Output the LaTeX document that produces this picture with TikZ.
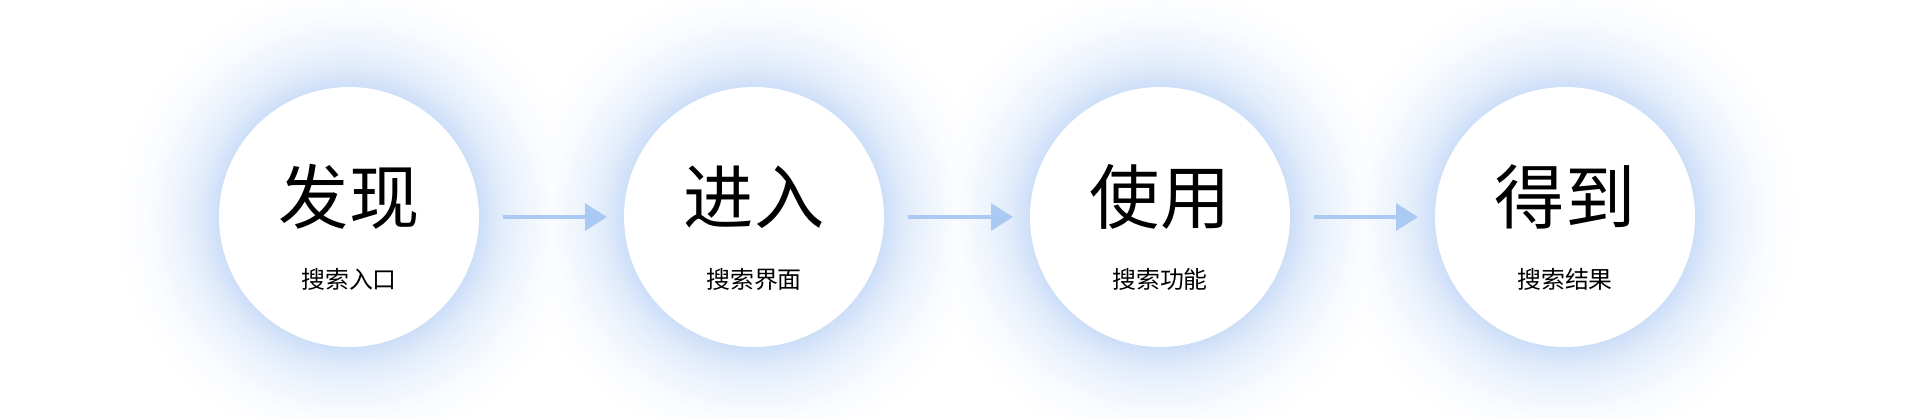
\documentclass[tikz,border=0pt]{standalone}
\usepackage{fontspec}
\newfontfamily\cjk{Noto Sans CJK SC}
\usetikzlibrary{arrows.meta}
\definecolor{glowblue}{RGB}{204,222,248}
\definecolor{arrowblue}{RGB}{170,201,243}
\pgfdeclareradialshading{glowshade}{\pgfpointorigin}{color(0bp)=(glowblue); color(13.8bp)=(glowblue); color(15.8bp)=(glowblue!62!white); color(18.5bp)=(glowblue!32!white); color(21.5bp)=(glowblue!10!white); color(25bp)=(white); color(50bp)=(white)}

\begin{document}
\begin{tikzpicture}[x=0.02cm,y=-0.02cm,
  stage/.style={circle,fill=white,minimum size=5.2cm,inner sep=0pt,outer sep=0pt},
  big/.style={font=\cjk\fontsize{40}{40}\selectfont},
  small/.style={font=\cjk\fontsize{13.6}{14}\selectfont},
  flow/.style={draw=arrowblue,line width=2.6pt,-{Triangle[length=12.5pt,width=15pt]},shorten <=0.48cm,shorten >=0.34cm}]
  \useasboundingbox (0,0) rectangle (1919,418);
  \foreach \x/\l/\r in {349/0/551,754/551/957,1160/957/1362,1565/1362/1919} {
    \begin{scope}
      \clip (\l,0) rectangle (\r,418);
      \shade[shading=glowshade] (\x,217) circle (4.7cm);
    \end{scope}
  }
  \node[stage] (find) at (349,217) {};
  \node[stage] (enter) at (754,217) {};
  \node[stage] (use) at (1160,217) {};
  \node[stage] (get) at (1565,217) {};
  \node[big] (find-t) at ([yshift=0.4cm]find) {发现};
  \node[small] (find-s) at ([yshift=-1.24cm]find) {搜索入口};
  \node[big] (enter-t) at ([yshift=0.4cm]enter) {进入};
  \node[small] (enter-s) at ([yshift=-1.24cm]enter) {搜索界面};
  \node[big] (use-t) at ([yshift=0.4cm]use) {使用};
  \node[small] (use-s) at ([yshift=-1.24cm]use) {搜索功能};
  \node[big] (get-t) at ([yshift=0.4cm]get) {得到};
  \node[small] (get-s) at ([yshift=-1.24cm]get) {搜索结果};
  \path (find) edge[flow] (enter)
  (enter) edge[flow] (use)
  (use) edge[flow] (get);
\end{tikzpicture}
\end{document}
